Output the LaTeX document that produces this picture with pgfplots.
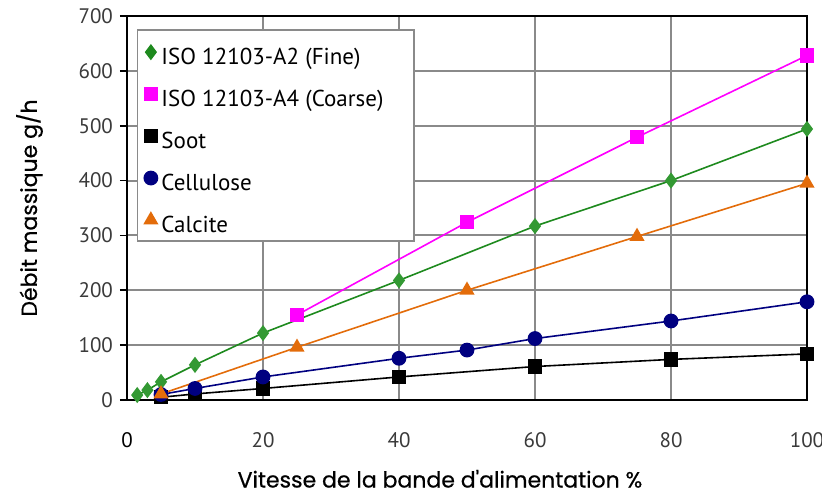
\documentclass[border=0pt]{standalone}
\usepackage{fontspec}
\setmainfont{PT Sans}
\newfontfamily\pop{Poppins}[FakeBold=0.6]
\usepackage{pgfplots}
\pgfplotsset{compat=1.18}

\definecolor{cgreen}{HTML}{339933}
\definecolor{clgreen}{HTML}{1E8A1E}
\definecolor{cmag}{HTML}{FF00FF}
\definecolor{cnavy}{HTML}{000080}
\definecolor{corange}{HTML}{E36C0A}
\definecolor{cgrid}{HTML}{8A8A8A}
\definecolor{ctick}{HTML}{3A3A3A}

\begin{document}
\begin{tikzpicture}
\begin{axis}[
  scale only axis,
  width=340pt, height=192pt,
  xmin=0, xmax=100, ymin=0, ymax=700,
  xtick={0,20,...,100}, ytick={0,100,...,700},
  xticklabels={{\color{black}0},20,40,60,80,100},
  grid=major,
  major grid style={cgrid, line width=1pt},
  axis line style={black, line width=1pt},
  /pgf/number format/assume math mode=true,
  tick label style={font=\fontsize{10.5}{12}\selectfont, text=ctick},
  xticklabel style={yshift=-9pt},
  xtick style={draw=none},
  ytick style={black, line width=0.8pt},
  tick align=outside,
  major tick length=3.5pt,
  ytick pos=left,
  xlabel={\pop Vitesse de la bande d'alimentation \%},
  ylabel={\pop Débit massique g/h},
  label style={font=\fontsize{11}{13}\selectfont},
  xlabel style={yshift=-4.5pt, xshift=-13.5pt},
  ylabel style={yshift=11pt},
  legend style={at={(0.016,0.928)}, anchor=north west, draw=none, fill=none,
    font=\fontsize{11.5}{13.5}\selectfont,
    row sep=7.3pt, inner xsep=3pt, inner ysep=0pt, cells={anchor=west}},
  legend cell align=left,
  legend image code/.code={\draw[#1, mark options={yshift=2.8pt}] plot coordinates {(0.12cm,0cm)};},
  clip=false,
]
\addplot[clgreen, line width=0.8pt, mark=diamond*, mark size=3.4pt,
  mark options={fill=cgreen, draw=cgreen}] coordinates {
  (1.5,9) (3,18) (5,33) (10,64) (20,122) (40,218) (60,317) (80,400) (100,494)};
\addlegendentry{ISO 12103-A2 (Fine)}
\addplot[cmag, line width=0.8pt, mark=square*, mark size=3.2pt,
  mark options={fill=cmag}] coordinates {
  (25,155) (50,324) (75,479) (100,628)};
\addlegendentry{ISO 12103-A4 (Coarse)}
\addplot[black, line width=0.8pt, mark=square*, mark size=3.2pt,
  mark options={fill=black}] coordinates {
  (5,5) (10,11) (20,21) (40,42) (60,61) (80,74) (100,84)};
\addlegendentry{Soot}
\addplot[cnavy, line width=0.8pt, mark=*, mark size=3.3pt,
  mark options={fill=cnavy}] coordinates {
  (5,10) (10,21) (20,42) (40,76) (50,91) (60,112) (80,144) (100,179)};
\addlegendentry{Cellulose}
\addplot[corange, line width=0.8pt, mark=triangle*, mark size=3.6pt,
  mark options={fill=corange}] coordinates {
  (5,11) (25,96) (50,200) (75,298) (100,395)};
\addlegendentry{Calcite}
% legend frame
\draw[cgrid, line width=0.6pt, fill=white] (rel axis cs:0.016,0.9635) rectangle (rel axis cs:0.422,0.414);
\coordinate (sw) at (rel axis cs:0,0);
\coordinate (ne) at (rel axis cs:1,1);
\end{axis}
\pgfresetboundingbox
\path[use as bounding box] ([shift={(-63.5pt,-46.5pt)}]sw) rectangle ([shift={(7.5pt,8pt)}]ne);
\end{tikzpicture}
\end{document}
